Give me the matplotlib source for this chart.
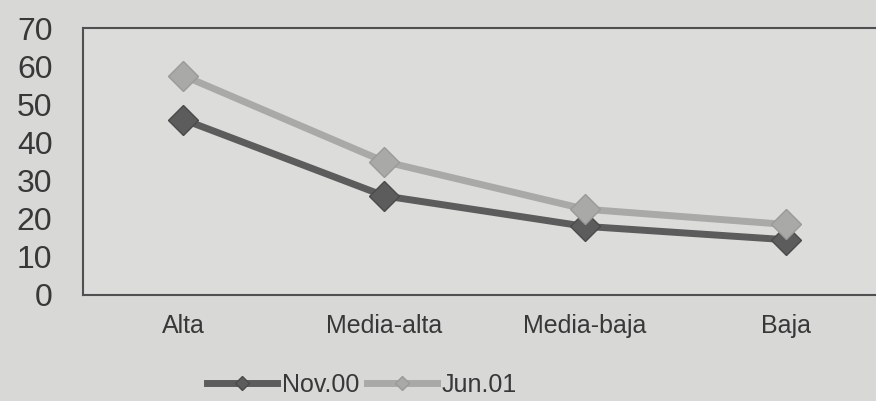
import matplotlib
matplotlib.use("Agg")
from matplotlib import pyplot as plt
import numpy as np

# data
categories = ["Alta", "Media-alta", "Media-baja", "Baja"]
nov_00 = [46, 26, 18, 14.5]
jun_01 = [57.5, 35, 22.5, 18.5]
y_ticks = [0, 10, 20, 30, 40, 50, 60, 70]

plt.rcParams['font.family'] = ['Liberation Sans', 'DejaVu Sans']

paper = '#d8d8d6'
ink = '#383838'

fig = plt.figure(figsize=(8.76, 4.01), dpi=100, facecolor=paper)
ax = fig.add_axes([83 / 876, 1 - 295 / 401, 803 / 876, 267 / 401])
ax.set_facecolor('#dcdcda')

x = np.arange(len(categories))
ax.plot(x, nov_00, color='#5c5c5c', lw=5, marker='D', ms=15,
        mec='#4a4a4a', mfc='#5c5c5c', label='Nov.00')
ax.plot(x, jun_01, color='#a9a9a7', lw=5, marker='D', ms=15,
        mec='#9a9a98', mfc='#a9a9a7', label='Jun.01')

ax.set_xlim(-0.5, 3.5)
ax.set_ylim(0, 70)
ax.set_yticks(y_ticks)
ax.set_xticks(x)
ax.set_xticklabels(categories)

ax.tick_params(axis='y', length=0, pad=22, labelsize=23, labelcolor=ink)
ax.tick_params(axis='x', length=0, pad=14, labelsize=18, labelcolor=ink)

for s in ax.spines.values():
    s.set_color('#505050')
    s.set_linewidth(1.5)

# legend at the bottom
fig.legend(loc='center', bbox_to_anchor=(362 / 876, 1 - 385 / 401), ncol=2,
           frameon=False, fontsize=18, handlelength=2.8, handletextpad=0.2,
           columnspacing=0.3, markerscale=0.5, labelcolor=ink,
           borderpad=0.1)

fig.savefig("out.png", dpi=100, facecolor=paper)
